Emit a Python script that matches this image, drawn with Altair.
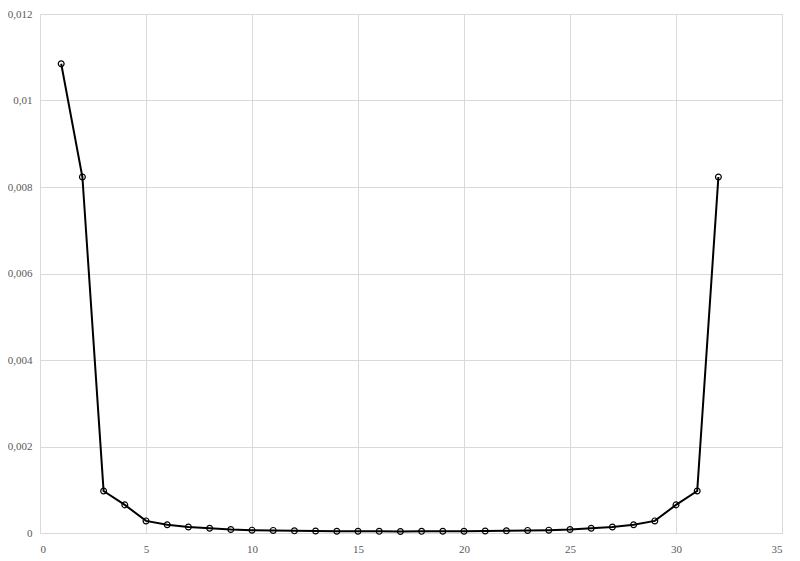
import altair as alt
import pandas as pd

xs = list(range(1, 33))
ys = [0.01085, 0.00823, 0.00097, 0.00065, 0.00028, 0.00019, 0.00014, 0.00011,
      0.00008, 0.000065, 0.00006, 0.00005, 0.000045, 0.00004, 0.00004, 0.000038,
      0.000035, 0.000038, 0.00004, 0.00004, 0.000045, 0.00005, 0.00006, 0.000065,
      0.00008, 0.00011, 0.00014, 0.00019, 0.00028, 0.00065, 0.00097, 0.00823]
x_ticks = [0, 5, 10, 15, 20, 25, 30, 35]
y_ticks = [0, 0.002, 0.004, 0.006, 0.008, 0.01, 0.012]

df = pd.DataFrame({"x": xs, "y": ys})

FONT = "Liberation Serif"

base = alt.Chart(df).encode(
    x=alt.X("x:Q", scale=alt.Scale(domain=[0, 35], nice=False),
            axis=alt.Axis(values=x_ticks, title=None, labelFont=FONT, labelFontSize=11,
                          labelColor="#595959", tickSize=0, labelPadding=10,
                          domainColor="#d9d9d9", gridColor="#d9d9d9")),
    y=alt.Y("y:Q", scale=alt.Scale(domain=[0, 0.012], nice=False),
            axis=alt.Axis(values=y_ticks, title=None, labelFont=FONT, labelFontSize=11,
                          labelColor="#595959", tickSize=0, labelPadding=8, domain=False,
                          gridColor="#d9d9d9",
                          labelExpr="replace(format(datum.value, '.3~f'), '.', ',')")),
)

line = base.mark_line(color="black", strokeWidth=2)
pts = base.mark_point(shape="circle", size=34, color="black", strokeWidth=1.2, filled=False, opacity=1)

chart = (line + pts).properties(
    width=742, height=519,
    autosize=alt.AutoSizeParams(type="none"),
    padding={"left": 32, "top": 6, "right": 10, "bottom": 30},
).configure_view(stroke=None)

chart.save("out.html", embed_options={"renderer": "svg", "actions": False})
